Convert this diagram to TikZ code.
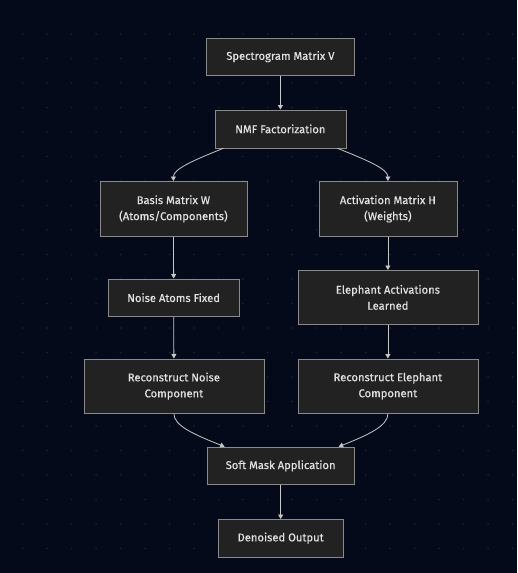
\documentclass[tikz,border=0pt]{standalone}
\usepackage{fontspec}
\setmainfont{Fira Sans}
\newfontfamily\nodefont{Fira Sans}[FakeBold=0.5]
\usetikzlibrary{arrows.meta}
\definecolor{bgc}{HTML}{050A1A}
\definecolor{dotc}{HTML}{1C2233}
\definecolor{boxfill}{HTML}{222222}
\definecolor{boxline}{HTML}{8A8A8A}
\definecolor{txt}{HTML}{E2E2E2}
\definecolor{arr}{HTML}{C8C8C8}
\tikzset{
  box/.style={draw=boxline, line width=0.8pt, fill=boxfill, text=txt, inner sep=0pt,
    font=\nodefont\fontsize{11.2}{16}\selectfont, align=center, anchor=north west},
  conn/.style={draw=arr, line width=0.8pt, -{Triangle[length=4.5pt,width=5pt]}}
}
\begin{document}
\begin{tikzpicture}[x=1pt,y=-1pt]
\useasboundingbox (0,0) rectangle (517,573);
\fill[bgc] (0,0) rectangle (517,573);
\foreach \i in {0,...,20} {
  \foreach \j in {0,...,21} {
    \fill[dotc] (22.7+24.5*\i,34+24.5*\j) circle (1pt);
  }
}
\node[box, minimum width=148pt, minimum height=37.5pt] (spec) at (206,37.5) {Spectrogram Matrix V};
\node[box, minimum width=131pt, minimum height=38pt] (nmf) at (214.5,109.5) {NMF Factorization};
\node[box, minimum width=147pt, minimum height=55pt] (basis) at (99.5,181) {Basis Matrix W\\(Atoms/Components)};
\node[box, minimum width=138pt, minimum height=55pt] (act) at (318.5,181) {Activation Matrix H\\(Weights)};
\node[box, minimum width=131.5pt, minimum height=37.5pt] (noise) at (107.5,278.5) {Noise Atoms Fixed};
\node[box, minimum width=180pt, minimum height=54pt] (eleph) at (297.5,270) {Elephant Activations\\Learned};
\node[box, minimum width=180pt, minimum height=54.5pt] (rnoise) at (83.5,358.5) {Reconstruct Noise\\Component};
\node[box, minimum width=180pt, minimum height=54.5pt] (releph) at (297.5,358.5) {Reconstruct Elephant\\Component};
\node[box, minimum width=147.5pt, minimum height=37.5pt] (mask) at (206.5,446.7) {Soft Mask Application};
\node[box, minimum width=124.5pt, minimum height=37.5pt] (out) at (218,519) {Denoised Output};

\draw[conn] (spec.south) -- (nmf.north);
\draw[conn] ([xshift=-57pt]nmf.south) .. controls +(-30,12) and +(0,-12) .. (basis.north);
\draw[conn] ([xshift=57pt]nmf.south) .. controls +(30,12) and +(0,-12) .. (act.north);
\draw[conn] (basis.south) -- (noise.north);
\draw[conn] (act.south) -- (eleph.north);
\draw[conn] (noise.south) -- (rnoise.north);
\draw[conn] (eleph.south) -- (releph.north);
\draw[conn] (rnoise.south) .. controls +(0,12) and +(-30,-12) .. ([xshift=-56pt]mask.north);
\draw[conn] (releph.south) .. controls +(0,12) and +(30,-12) .. ([xshift=58pt]mask.north);
\draw[conn] (mask.south) -- (out.north);
\end{tikzpicture}
\end{document}
